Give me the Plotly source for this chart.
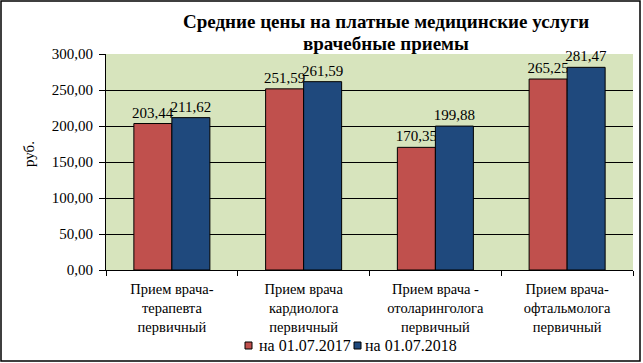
import plotly.graph_objects as go

categories = ["Прием врача-<br>терапевта<br>первичный",
              "Прием врача<br>кардиолога<br>первичный",
              "Прием врача -<br>отоларинголога<br>первичный",
              "Прием врача-<br>офтальмолога<br>первичный"]
series_names = ["на 01.07.2017", "на 01.07.2018"]
values_2017 = [203.44, 251.59, 170.35, 265.25]
values_2018 = [211.62, 261.59, 199.88, 281.47]
colors = ["#C0504D", "#1F497D"]
y_ticks = [0, 50, 100, 150, 200, 250, 300]
title_lines = ["Средние цены на платные медицинские услуги", "врачебные приемы"]
y_title = "руб."

W, H = 643, 363
L, R, T, B = 106, 10, 54, 93
PW, PH = W - L - R, H - T - B

font = "Liberation Serif"


def px_x(x):
    return (x - L) / PW


def px_y(y):
    return (H - B - y) / PH


fig = go.Figure()
for name, vals, col in zip(series_names, [values_2017, values_2018], colors):
    fig.add_trace(go.Bar(
        x=categories, y=vals, name=name,
        marker=dict(color=col, line=dict(color="black", width=1)),
        texttemplate="%{y:.2f}", textposition="outside",
        textfont=dict(family=font, size=15, color="black"),
        cliponaxis=False, constraintext="none",
    ))

fig.update_layout(
    width=W, height=H, autosize=False,
    margin=dict(l=L, r=R, t=T, b=B),
    separators=", ",
    paper_bgcolor="white",
    plot_bgcolor="#D7E4BD",
    barmode="group", bargap=0.423, bargroupgap=0,
    font=dict(family=font, size=13, color="black"),
    showlegend=False,
    yaxis=dict(range=[0, 300], tickvals=y_ticks, tickformat=".2f",
               showgrid=True, gridcolor="black", gridwidth=1,
               showline=True, linecolor="black", linewidth=1,
               ticks="outside", ticklen=6, tickcolor="black",
               tickfont=dict(family=font, size=15, color="black"),
               ticklabelstandoff=3,
               zeroline=False),
    xaxis=dict(showline=True, linecolor="black", linewidth=1,
               ticks="outside", ticklen=5, tickcolor="black", tickson="boundaries",
               tickfont=dict(family=font, size=14.5, color="black"),
               ticklabelstandoff=6,
               showgrid=False),
)

# title (two lines)
for txt, yc in zip(title_lines, [21, 43]):
    fig.add_annotation(xref="paper", yref="paper", x=px_x(386), y=px_y(yc),
                       xanchor="center", yanchor="middle", showarrow=False,
                       text="<b>" + txt + "</b>",
                       font=dict(family=font, size=19, color="black"))

# y-axis title
fig.add_annotation(xref="paper", yref="paper", x=px_x(29), y=px_y(154),
                   xanchor="center", yanchor="middle", showarrow=False, textangle=-90,
                   text=y_title, font=dict(family=font, size=15, color="black"))

# legend drawn as swatches + text
legend_items = [(series_names[0], colors[0], 245, 257), (series_names[1], colors[1], 354, 363)]
for name, col, sx, tx in legend_items:
    fig.add_shape(type="rect", xref="paper", yref="paper",
                  x0=px_x(sx), x1=px_x(sx + 7), y0=px_y(349), y1=px_y(342),
                  line=dict(color="black", width=1), fillcolor=col)
    fig.add_annotation(xref="paper", yref="paper", x=px_x(tx), y=px_y(345),
                       xanchor="left", yanchor="middle", text=name, showarrow=False,
                       font=dict(family=font, size=16, color="black"))

# outer chart border
fig.add_shape(type="rect", xref="paper", yref="paper",
              x0=px_x(1), x1=px_x(W - 3), y0=px_y(H - 2), y1=px_y(1),
              line=dict(color="black", width=1.5), fillcolor="rgba(0,0,0,0)", layer="above")

fig.write_html("out.html",
               config={"responsive": False, "displayModeBar": False},
               post_script=("document.documentElement.style.margin='0';"
                            "document.documentElement.style.overflow='hidden';"
                            "document.body.style.margin='0';"
                            "document.body.style.overflow='hidden';"))
